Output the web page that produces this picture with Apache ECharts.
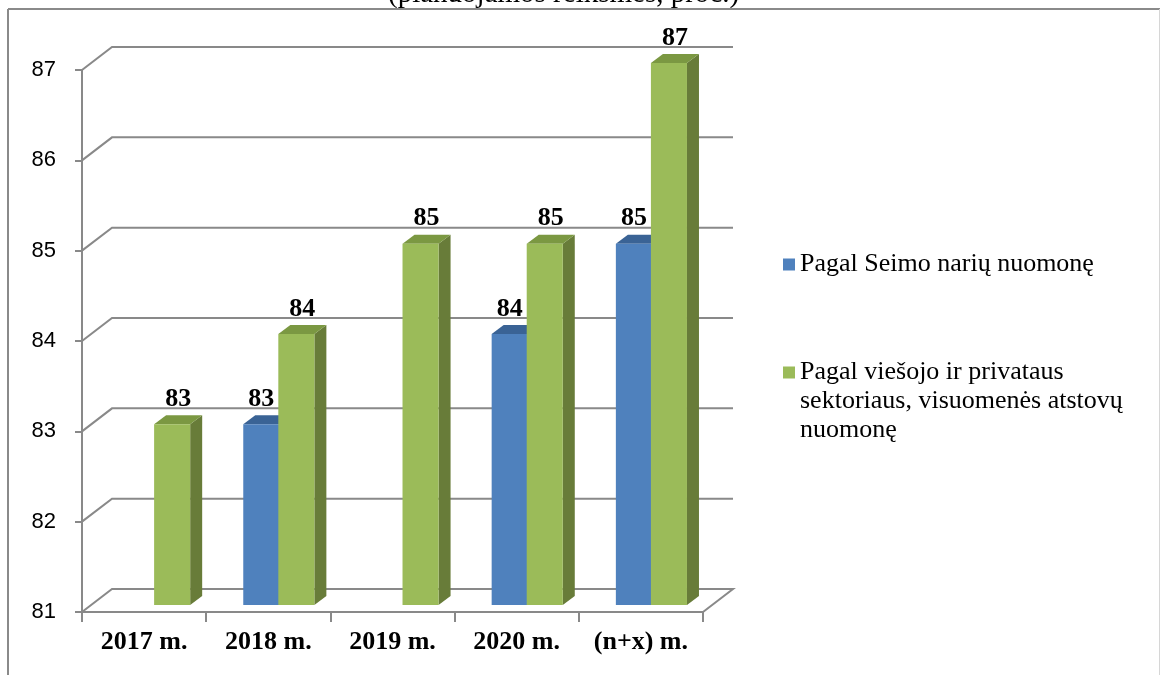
<!DOCTYPE html>
<html>
<head>
<meta charset="utf-8">
<script src="https://cdn.jsdelivr.net/npm/echarts@6/dist/echarts.min.js"></script>
<style>
html,body{margin:0;padding:0;background:#fff;}
#chart{width:1160px;height:675px;}
</style>
</head>
<body>
<div id="chart"></div>
<script>
// ---- data ----
var titleText = '(planuojamos reikšmės, proc.)';
var categories = ['2017 m.', '2018 m.', '2019 m.', '2020 m.', '(n+x) m.'];
var seriesNames = ['Pagal Seimo narių nuomonę', 'Pagal viešojo ir privataus sektoriaus, visuomenės atstovų nuomonę'];
var legendLines2 = ['Pagal viešojo ir privataus', 'sektoriaus, visuomenės atstovų', 'nuomonę'];
var seimoValues = [null, 83, null, 84, 85];
var viesojoValues = [83, 84, 85, 85, 87];
var yTicks = [81, 82, 83, 84, 85, 86, 87];

// ---- style / geometry ----
var Y_MIN = 81, Y_MAX = 87;
var DEPTH_DX = 30, DEPTH_DY = -23;      // back wall offset
var BAR_DY = -7;                        // bar placement inside depth
var SIDE_DX = 12, SIDE_DY = -9;         // bar thickness
var GRID_COLOR = '#898989';

function toPairs(arr) {
  var out = [];
  for (var i = 0; i < arr.length; i++) if (arr[i] != null) out.push([i, arr[i]]);
  return out;
}

function makeBarRender(slotOffsetFrac, widthFrac, colors, labelShift) {
  return function (params, api) {
    var idx = api.value(0), v = api.value(1);
    var top = api.coord([idx, v]);
    var base = api.coord([idx, Y_MIN]);
    var cw = api.size([1, 0])[0];
    var x0 = top[0] + slotOffsetFrac * cw;
    var w = widthFrac * cw;
    var x1 = x0 + w;
    var yt = top[1] + BAR_DY;
    var yb = base[1] + BAR_DY;
    return {
      type: 'group',
      children: [
        { type: 'polygon', shape: { points: [[x1, yt], [x1 + SIDE_DX, yt + SIDE_DY], [x1 + SIDE_DX, yb + SIDE_DY], [x1, yb]] },
          style: { fill: colors.side } },
        { type: 'polygon', shape: { points: [[x0, yt], [x1, yt], [x1 + SIDE_DX, yt + SIDE_DY], [x0 + SIDE_DX, yt + SIDE_DY]] },
          style: { fill: colors.top } },
        { type: 'rect', shape: { x: x0, y: yt, width: w, height: yb - yt },
          style: { fill: colors.front } },
        { type: 'text', x: (x0 + x1) / 2 + labelShift, y: yt + SIDE_DY - 3,
          style: { text: String(v), fill: '#000', font: 'bold 26px "Liberation Serif"', textAlign: 'center', textVerticalAlign: 'bottom' } }
      ]
    };
  };
}

var chart = echarts.init(document.getElementById('chart'));
var option = {
  animation: false,
  backgroundColor: '#fff',
  title: {
    text: titleText, left: 388, top: -20, padding: 0,
    textStyle: { fontFamily: 'Liberation Serif', fontSize: 29, fontWeight: 'normal', color: '#000' }
  },
  grid: { left: 82, right: 457, top: 70, bottom: 63 },
  legend: [
    {
      data: [seriesNames[0]], left: 783, top: 250, padding: 0, orient: 'vertical',
      icon: 'rect', itemWidth: 12, itemHeight: 12, selectedMode: false,
      textStyle: { fontFamily: 'Liberation Serif', fontSize: 26, color: '#000', lineHeight: 29 }
    },
    {
      data: [seriesNames[1]], left: 783, top: 300, padding: 0, orient: 'vertical',
      icon: 'rect', itemWidth: 12, itemHeight: 12, selectedMode: false,
      formatter: function () { return '\n\n' + legendLines2.join('\n'); },
      textStyle: { fontFamily: 'Liberation Serif', fontSize: 26, color: '#000', lineHeight: 29 }
    }
  ],
  xAxis: {
    type: 'category', data: categories, boundaryGap: true,
    axisLine: { show: true, lineStyle: { color: GRID_COLOR, width: 2 } },
    axisTick: { show: true, length: 10, lineStyle: { color: GRID_COLOR, width: 2 } },
    axisLabel: { interval: 0, hideOverlap: false, margin: 17, fontFamily: 'Liberation Serif', fontWeight: 'bold', fontSize: 26, color: '#000' },
    splitLine: { show: false }
  },
  yAxis: {
    type: 'value', min: Y_MIN, max: Y_MAX, interval: 1,
    axisLine: { show: true, lineStyle: { color: GRID_COLOR, width: 2 } },
    axisTick: { show: true, length: 7, lineStyle: { color: GRID_COLOR, width: 2 } },
    axisLabel: { margin: 26, fontFamily: 'Liberation Sans', fontSize: 22, color: '#000' },
    splitLine: { show: false }
  },
  graphic: [
    { type: 'line', shape: { x1: 8, y1: 9, x2: 1160, y2: 9 }, style: { stroke: '#8a8a8a', lineWidth: 2 }, z: 100 },
    { type: 'line', shape: { x1: 8, y1: 9, x2: 8, y2: 675 }, style: { stroke: '#8a8a8a', lineWidth: 2 }, z: 100 },
    { type: 'line', shape: { x1: 1159.5, y1: 9, x2: 1159.5, y2: 675 }, style: { stroke: '#d6d6d6', lineWidth: 1 }, z: 100 }
  ],
  series: [
    {
      name: 'walls', type: 'custom', z: 1, silent: true,
      data: yTicks.map(function (v) { return [0, v]; }),
      renderItem: function (params, api) {
        var v = api.value(1);
        var p = api.coord([0, v]);
        var cw = api.size([1, 0])[0];
        var xl = p[0] - cw / 2;
        var xr = api.coord([categories.length - 1, v])[0] + cw / 2;
        var y = p[1];
        var pts = [[xl, y], [xl + DEPTH_DX, y + DEPTH_DY], [xr + DEPTH_DX, y + DEPTH_DY]];
        if (v === Y_MIN) pts.push([xr, y]);
        return { type: 'polyline', shape: { points: pts }, style: { stroke: GRID_COLOR, lineWidth: 2, fill: null } };
      }
    },
    {
      name: seriesNames[0], type: 'custom', z: 3,
      itemStyle: { color: '#4F81BD' },
      data: toPairs(seimoValues),
      renderItem: makeBarRender(-25 / 124, 36 / 124, { front: '#4F81BD', side: '#36608f', top: '#3A6395' }, 0)
    },
    {
      name: seriesNames[1], type: 'custom', z: 4,
      itemStyle: { color: '#9BBB59' },
      data: toPairs(viesojoValues),
      renderItem: makeBarRender(10 / 124, 36 / 124, { front: '#9BBB59', side: '#687C39', top: '#7B9842' }, 6)
    }
  ]
};
chart.setOption(option);
</script>
</body>
</html>
